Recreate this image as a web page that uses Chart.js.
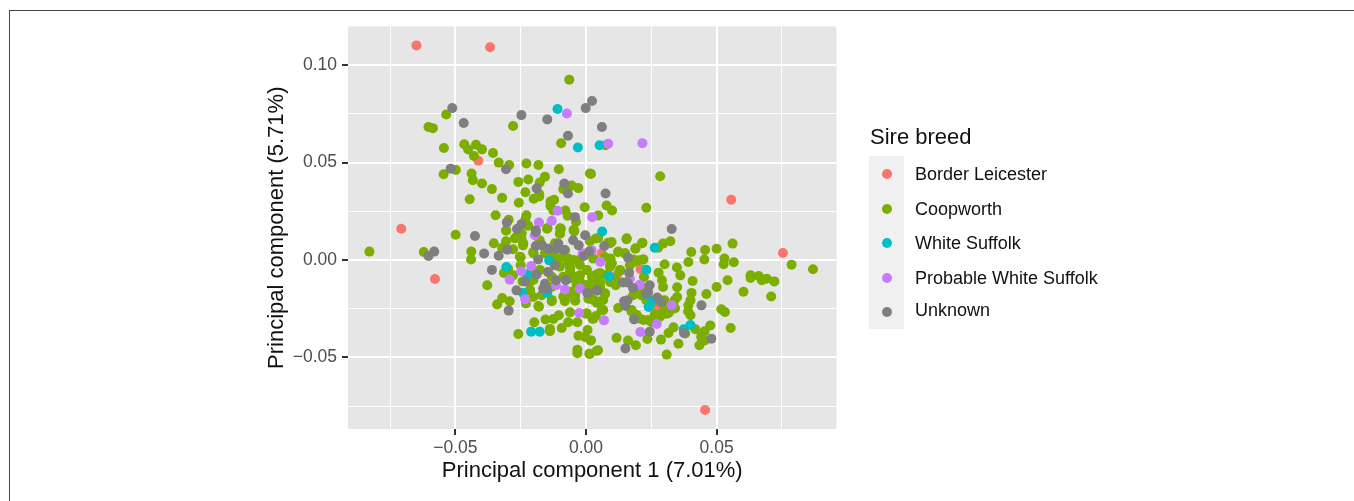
<!DOCTYPE html>
<html>
<head>
<meta charset="utf-8">
<script src="https://cdn.jsdelivr.net/npm/chart.js@4/dist/chart.umd.min.js"></script>
<style>
  html, body { margin: 0; padding: 0; background: #fff; }
  #wrap { position: relative; width: 1354px; height: 501px; overflow: hidden; font-family: "Liberation Sans", Arial, sans-serif; }
  #frame { position: absolute; left: 9px; top: 10px; right: 0; bottom: 0; border-left: 1px solid #444; border-top: 1px solid #444; }
  canvas { position: absolute; left: 0; top: 0; }
  #legendTitle { position: absolute; left: 870px; top: 124px; font-size: 22px; color: #111; }
  #legendBox { position: absolute; left: 869px; top: 156px; width: 35px; height: 173px; background: #f0f0f0; }
  .dot { position: absolute; left: 882px; width: 10px; height: 10px; border-radius: 50%; }
  .label { position: absolute; left: 915px; font-size: 18px; line-height: 20px; color: #111; white-space: nowrap; }
</style>
</head>
<body>
<div id="wrap">
  <div id="frame"></div>
  <canvas id="pcaChart" width="1354" height="501"></canvas>
  <div id="legendTitle">Sire breed</div>
  <div id="legendBox"></div>
</div>
<script>
// tick positions
const xMajorTicks = [-0.05, 0, 0.05];
const xMinorTicks = [-0.075, -0.025, 0.025, 0.075];
const yMajorTicks = [-0.05, 0, 0.05, 0.1];
const yMinorTicks = [-0.075, -0.025, 0.025, 0.075];

const breeds = ["Border Leicester", "Coopworth", "White Suffolk", "Probable White Suffolk", "Unknown"];
const breedColors = ["#F8766D", "#7CAE00", "#00BFC4", "#C77CFF", "#7F7F7F"];

// values as [pc1, pc2]
const borderLeicester = [
  [-0.0649,0.1102],[-0.0367,0.1092],[-0.0412,0.051],[-0.0707,0.016],[0.0754,0.0036],[0.0556,0.0309],
  [-0.0578,-0.0098],[0.0456,-0.077],[0.0209,-0.0048],[0.027,-0.024],[0.006,0.0036],[0.0118,-0.0077]
];
const coopworth = [
  [-0.0064,0.0926],[-0.0535,0.0747],[-0.0279,0.0688],[-0.0603,0.0683],[-0.0586,0.0677],[-0.0095,0.0599],
  [-0.0544,0.0575],[-0.0466,0.0594],[-0.0421,0.0592],[-0.0451,0.0567],[-0.0398,0.0568],[-0.0429,0.0534],
  [-0.0356,0.0549],[-0.0334,0.05],[-0.0294,0.0488],[-0.0228,0.0495],[-0.0182,0.0488],[-0.0104,0.0466],
  [0.0015,0.0444],[-0.0498,0.0462],[-0.0545,0.044],[-0.0438,0.0444],[-0.0433,0.041],[-0.0398,0.0393],
  [-0.036,0.0364],[-0.0321,0.0319],[-0.0445,0.0312],[-0.0259,0.0401],[-0.0221,0.0413],[-0.0157,0.0428],
  [-0.0177,0.0398],[-0.0232,0.0348],[-0.0257,0.0294],[-0.02,0.0314],[-0.0179,0.0326],[-0.0179,0.0338],
  [-0.0136,0.03],[-0.0122,0.0309],[-0.0136,0.0278],[-0.0125,0.0254],[-0.0087,0.0364],[-0.0055,0.0382],
  [-0.0029,0.0369],[-0.0005,0.0271],[-0.0346,0.023],[-0.0296,0.0207],[-0.0228,0.023],[-0.0232,0.021],
  [-0.0079,0.0254],[-0.007,0.0227],[-0.0038,0.0195],[0.0047,0.0229],[-0.0147,0.0164],[-0.0096,0.016],
  [-0.0045,0.0152],[-0.0221,0.0176],[-0.0305,0.0152],[0.0284,0.043],[0.0079,0.028],[0.01,0.0254],[0.0231,0.0268],
  [0.0075,0.0589],[0.0019,0.0442],
  [-0.0829,0.0043],[-0.0621,0.0041],[-0.0499,0.013],[-0.0439,0.0043],[-0.044,0.0002],[-0.0353,0.0086],
  [-0.0378,-0.013],[-0.0321,0.0062],[-0.0306,0.0096],[-0.0306,0.0151],[-0.0266,0.0118],[-0.0247,0.011],
  [-0.0241,0.0075],[-0.0279,0.0055],[-0.025,0.0014],[-0.025,-0.0027],[-0.0314,-0.0067],[-0.0298,-0.0045],
  [-0.0279,-0.0079],[-0.0321,-0.0195],[-0.034,-0.0228],[-0.0292,-0.0212],[-0.023,-0.0223],[-0.018,-0.024],
  [-0.0198,-0.032],[-0.0259,-0.038],[-0.0155,-0.0306],[-0.0125,-0.0303],[-0.0104,-0.0284],[-0.0061,-0.0269],
  [-0.0138,-0.0354],[-0.0138,-0.0366],[-0.0093,-0.0349],[-0.0068,-0.032],[-0.0033,-0.032],[0.0006,-0.036],
  [-0.0029,-0.0389],[-0.0004,-0.0395],[0.0018,-0.0413],[-0.0033,-0.0461],[-0.0033,-0.0479],[0.0015,-0.0483],
  [0.0041,-0.0466],[0,-0.0276],[0.0028,-0.0301],[-0.0131,-0.0212],[-0.0081,-0.0192],[-0.0081,-0.0212],
  [-0.0042,-0.0181],[-0.0041,-0.0209],[-0.0202,-0.019],[-0.017,-0.0181],[-0.0215,-0.0156],[-0.0243,-0.011],
  [-0.0209,-0.0053],[-0.0202,0.0041],[-0.0177,0.0101],[-0.0149,0.0161],[-0.01,0.0135],[-0.0045,0.0147],
  [-0.0145,-0.0062],[-0.0125,0.0024],[-0.0106,0.0007],[-0.0068,0.0007],[-0.0029,-0.0002],[-0.0061,-0.0036],
  [-0.0023,-0.0079],[-0.0061,-0.007],[-0.0029,-0.013],[0.0003,-0.0053],[0.0035,-0.0079],[0.0009,-0.0199],
  [0.0041,-0.0219],[0.0047,-0.007],[0.0038,0.011],
  [0.0155,0.0106],[0.0215,0.0086],[0.0189,0.0058],[0.0323,0.0096],[0.0295,0.0084],[0.0276,0.0063],
  [0.0403,0.0041],[0.0456,0.0051],[0.05,0.0058],[0.0561,0.0084],[0.0453,0.0002],[0.0392,-0.001],
  [0.053,0.0007],[0.0527,-0.0022],[0.0566,-0.0012],[0.0301,-0.0022],[0.0348,-0.0039],[0.0278,-0.0065],
  [0.0361,-0.0079],[0.0291,-0.0104],[0.0295,-0.0139],[0.0349,-0.014],[0.0408,-0.0108],[0.0542,-0.0104],
  [0.05,-0.0139],[0.0461,-0.0175],[0.0404,-0.0169],[0.0349,-0.019],[0.0339,-0.0207],[0.04,-0.0207],
  [0.0392,-0.0233],[0.0391,-0.0264],[0.04,-0.0284],[0.0518,-0.0253],[0.0532,-0.0267],[0.0554,-0.0349],
  [0.0476,-0.0336],[0.0419,-0.0356],[0.0454,-0.0366],[0.0441,-0.0395],[0.0454,-0.0413],[0.0434,-0.0438],
  [0.0354,-0.043],[0.0287,-0.0409],[0.0316,-0.0375],[0.0335,-0.0346],[0.038,-0.0378],[0.0309,-0.0486],
  [0.0235,-0.0406],[0.0191,-0.0438],[0.0161,-0.0414],[0.0117,-0.04],[0.0046,-0.0464],[0.0019,-0.0413],
  [0.0013,-0.0481],[0.0603,-0.0163],[0.063,-0.0079],[0.063,-0.0092],[0.0661,-0.0082],[0.0673,-0.0104],
  [0.0692,-0.0096],[0.0721,-0.011],[0.0709,-0.0188],[0.0787,-0.0024],[0.0869,-0.0048],[0.0123,-0.0247],
  [0.0174,-0.0264],[0.0206,-0.0301],[0.025,-0.0318],[0.0263,-0.0281],[0.0288,-0.0276],[0.0307,-0.0276],
  [0.032,-0.0264],[0.0301,-0.0207],[0.0072,-0.0173],[0.0047,-0.0219],[0.0062,-0.0255],[0.0038,-0.0288],
  [0.0025,-0.0301],[0.0056,-0.007],[0.0092,-0.0036],[0.0094,0.0007],[0.0072,0.0015],[0.0123,0.0041],
  [0.0149,0.0033],[0.018,0.0002],[0.0218,0.0002],[0.0199,-0.0002],[0.0168,-0.0027],[0.013,-0.0056],
  [0.0222,-0.0087],[0.0092,-0.0113],[0.0054,-0.0113],[0.0114,-0.013],[0.0028,0.0007],[0.0047,0.0113],
  [0.0098,0.0092],[0.0085,0.0089],[0.0015,0.0096],[0.0022,-0.013],[0.018,-0.0181],[0.0212,-0.0181],
  [0.0231,-0.0207],[0.0301,-0.0233],
  [-0.0087,0.0017],[-0.0068,-0.0017],[-0.0048,0],[-0.0023,-0.0026],[-0.0061,-0.0051],[-0.0036,-0.0086],
  [0.0003,-0.0051],[0.0022,-0.0086],[0.0041,-0.0111],[0.0054,-0.0068],[-0.0023,-0.0111],[-0.0061,-0.0094],
  [-0.01,-0.0034],[-0.0125,0.0009],[-0.0157,0.0034],[-0.0201,0.0034],[-0.0214,-0.0154],[-0.0201,-0.0103],
  [0.0028,-0.0205],[0.0047,-0.0214],[0.0073,-0.0175],[0.0066,-0.0257],[0.0028,-0.0299],[0.0003,-0.0274],
  [-0.0042,-0.0205],[-0.008,-0.0197],[-0.0131,-0.0205],[-0.0182,-0.0236],
  [0.0092,0.0086],[0.0156,0.0111],[0.019,0.006],[0.0216,0.0089],[0.0124,0.0043],[0.015,0.0034],
  [0.0099,-0.0017],[0.013,-0.0051],[0.0092,-0.0026],[0.0188,-0.0009],[0.022,0.0003],[0.0054,-0.0086],
  [0.0079,-0.0077],[0.0111,-0.0094],[0.0073,-0.0171],[0.0213,-0.0137],[0.0188,-0.0163],[0.006,-0.0257],
  [0.0066,-0.0205],[0.0258,-0.0214],[0.0315,-0.0274],[0.0239,-0.0308],[0.022,-0.0308],[0.0175,-0.0257],
  [0.0194,-0.0282],[0.0283,-0.0291],[0.0341,-0.0248],
  [-0.008,0.0051],[-0.0119,0.0086],[-0.0138,0.0026],[-0.0106,0.006],[-0.0253,0.0017],[-0.0246,0.0137],
  [-0.0272,0.0111],[-0.024,0.0086],[-0.0099,0.0137],[-0.0099,0.0163],[-0.0048,0.0154],[-0.0201,-0.0077],
  [-0.0214,-0.0111],[-0.0176,-0.0051],[-0.0131,-0.0086],[-0.0087,-0.0086],[-0.0131,-0.0137],[-0.0036,-0.0128],
  [-0.0061,-0.0163],[0.0003,-0.0128],[0.0054,-0.0137],[-0.0042,-0.018],[-0.0087,-0.0188],[0.0015,-0.018]
];
const whiteSuffolk = [
  [-0.0109,0.0775],[-0.0031,0.0578],[0.0052,0.0589],[-0.0305,-0.0036],[-0.0225,-0.0079],[-0.0241,-0.0169],
  [-0.0148,-0.0169],[-0.021,-0.0368],[-0.0177,-0.0368],[-0.0141,-0.0002],[0.0062,0.0146],[0.0263,0.0063],
  [0.0089,-0.0084],[0.0231,-0.005],[0.0231,-0.0178],[0.0257,-0.0207],[0.024,-0.0241],[0.0374,-0.0356],[0.04,-0.0334]
];
const probableWhiteSuffolk = [
  [-0.0073,0.0752],[-0.0109,0.0253],[-0.018,0.0193],[-0.0131,0.0201],[0.0024,0.022],[0.0085,0.0597],[0.0216,0.06],
  [-0.0292,-0.0101],[-0.0233,-0.0202],[-0.0248,-0.0058],[-0.021,-0.0031],[-0.0081,-0.0151],[-0.0023,-0.0147],
  [-0.0026,-0.0272],[-0.0013,0.0033],[0.0022,0.005],[0.0055,-0.001],[-0.0196,0.0127],[-0.0115,-0.013],
  [0.0168,-0.0096],[0.0206,-0.0127],[0.0069,-0.031],[0.0328,-0.0233],[0.0271,-0.0329],[0.0208,-0.037]
];
const unknownSire = [
  [-0.0512,0.078],[-0.0468,0.0703],[-0.0247,0.0744],[-0.0148,0.0722],[-0.0001,0.078],[0.0023,0.0816],
  [-0.0069,0.0638],[0.0061,0.0683],[-0.0518,0.0469],[-0.0306,0.0466],[-0.0189,0.0367],[-0.0083,0.0393],
  [-0.0069,0.0341],[-0.0042,0.022],[-0.0303,0.0193],[-0.0247,0.0184],[-0.0264,0.0159],[-0.0192,0.0152],
  [0.0075,0.0341],[0.0328,0.0159],
  [-0.0425,0.0123],[-0.0603,0.0021],[-0.0581,0.0043],[-0.039,0.0033],[-0.0334,0.0022],[-0.036,-0.0051],
  [-0.0301,0.0053],[-0.0192,0.0144],[-0.0192,0.0072],[-0.0168,0.0075],[-0.0143,0.0058],[-0.0106,0.0084],
  [-0.0113,0.0058],[-0.0084,0.005],[-0.0183,0.0003],[-0.0119,-0.0027],[-0.0189,-0.0075],[-0.0145,-0.0062],
  [-0.0232,-0.011],[-0.0266,-0.0156],[-0.0115,-0.0104],[-0.0077,-0.0104],[-0.0157,-0.0122],[-0.0164,-0.0147],
  [-0.0151,-0.0147],[-0.0296,-0.026],[-0.0049,0.0101],[-0.0028,0.0075],[-0.0003,0.0127],[-0.0008,0.0021],
  [0.0013,0.0045],[0.0005,-0.0169],[0.0041,-0.0156],
  [0.007,0.0072],[0.0161,0.0012],[0.0165,-0.0065],[0.0142,-0.0116],[0.0159,-0.0116],[0.018,-0.0144],
  [0.0244,-0.013],[0.0238,-0.0164],[0.0231,-0.0173],[0.0043,-0.0158],[0.0273,-0.0193],[0.0288,-0.0216],
  [0.0146,-0.0212],[0.0159,-0.0207],[0.0151,-0.0236],[0.0184,-0.0305],[0.0244,-0.0368],[0.0151,-0.0455],
  [0.0375,-0.0375],[0.0442,-0.0233],[0.048,-0.0404]
];
const breedPoints = [borderLeicester, coopworth, whiteSuffolk, probableWhiteSuffolk, unknownSire];
// which one ends up on top, lower is drawn later
const breedOrder = [4, 3, 2, 1, 0];

// grey panel behind the points
const panelBackground = {
  id: "panelBackground",
  beforeDraw(chart) {
    const { ctx, chartArea: a } = chart;
    ctx.save();
    ctx.fillStyle = "#E6E6E6";
    ctx.fillRect(a.left, a.top, a.width, a.height);
    ctx.restore();
  },
};

const isMajor = (list, value) => list.some((v) => Math.abs(v - value) < 1e-9);
const formatTick = (value) => value.toFixed(2).replace("-", "\u2212");

function axis(major, minor, min, max, titleText, titlePadding, fitSize, labelPadding) {
  return {
    type: "linear",
    min: min,
    max: max,
    border: { display: false },
    grid: {
      color: "#ffffff",
      lineWidth: (c) => (c.tick && isMajor(major, c.tick.value) ? 2 : 1),
      tickColor: (c) => (c.tick && isMajor(major, c.tick.value) ? "#333333" : "rgba(0,0,0,0)"),
      tickWidth: 2,
      tickLength: 6,
    },
    afterBuildTicks(scale) {
      scale.ticks = major.concat(minor).sort((a, b) => a - b).map((v) => ({ value: v }));
    },
    ticks: {
      autoSkip: false,
      maxRotation: 0,
      padding: labelPadding,
      color: "#4D4D4D",
      font: { family: "Liberation Sans", size: 17.5 },
      callback: (value) => (isMajor(major, value) ? formatTick(value) : ""),
    },
    title: {
      display: true,
      text: titleText,
      color: "#111111",
      font: { family: "Liberation Sans", size: 22 },
      padding: titlePadding,
    },
    afterFit(scale) {
      if (scale.isHorizontal()) scale.height = fitSize;
      else scale.width = fitSize;
    },
  };
}

new Chart(document.getElementById("pcaChart"), {
  type: "scatter",
  data: {
    datasets: breeds.map((name, i) => ({
      label: name,
      data: breedPoints[i].map((p) => ({ x: p[0], y: p[1] })),
      backgroundColor: breedColors[i],
      borderWidth: 0,
      pointRadius: 5,
      order: breedOrder[i],
    })),
  },
  options: {
    responsive: false,
    animation: false,
    clip: false,
    layout: { padding: { left: 0, top: 26.5, right: 517.5, bottom: 0 } },
    plugins: { legend: { display: false }, tooltip: { enabled: false } },
    scales: {
      x: axis(xMajorTicks, xMinorTicks, -0.0911, 0.0959, "Principal component 1 (7.01%)", { top: 0, bottom: 17 }, 72, 3),
      y: axis(yMajorTicks, yMinorTicks, -0.0868, 0.1199, "Principal component (5.71%)", { top: 264, bottom: 0 }, 348, 5),
    },
  },
  plugins: [panelBackground],
});

// legend rows
const wrap = document.getElementById("wrap");
const rowCenters = [174, 209, 243, 278, 312];
breeds.forEach((name, i) => {
  const dot = document.createElement("div");
  dot.className = "dot";
  dot.style.top = rowCenters[i] - 5 + "px";
  dot.style.background = breedColors[i];
  wrap.appendChild(dot);
  const label = document.createElement("div");
  label.className = "label";
  label.style.top = rowCenters[i] - 10 - (i === 4 ? 2 : 0) + "px";
  label.textContent = name;
  wrap.appendChild(label);
});
</script>
</body>
</html>
